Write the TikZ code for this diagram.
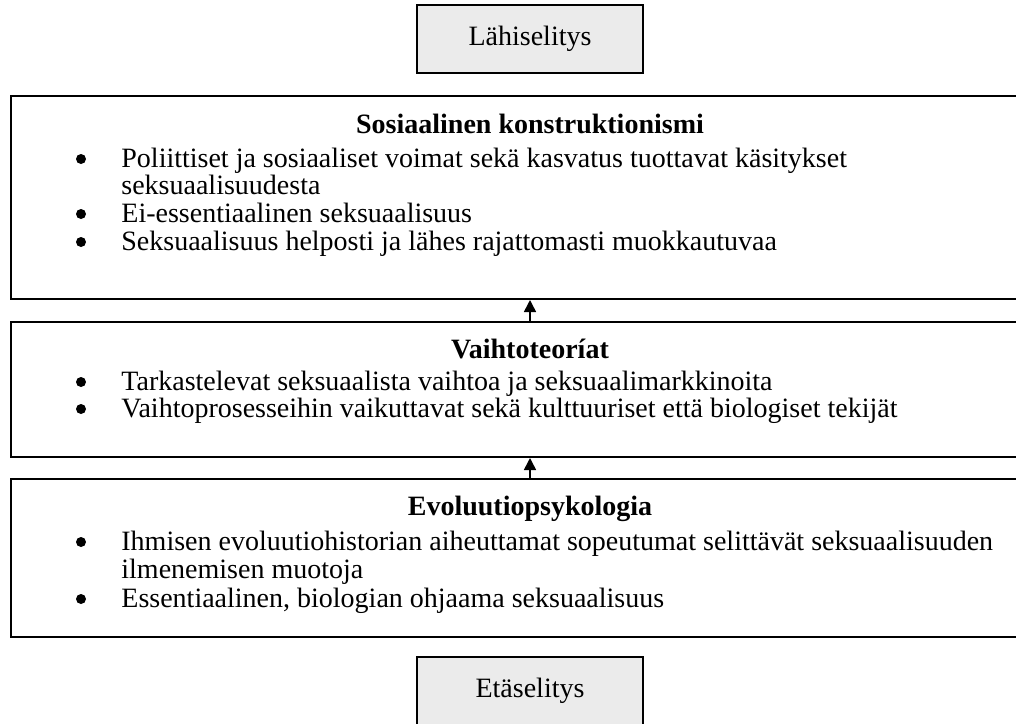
\documentclass[tikz,border=0pt]{standalone}
\usepackage{fontspec}
\setmainfont{Liberation Serif}
\usepackage{tikz}
\usetikzlibrary{arrows.meta}

\begin{document}
\begin{tikzpicture}[x=0.5pt,y=-0.5pt]
        \tikzstyle{level}=[rectangle,draw=black,line width=1pt,fill=white]
        \tikzstyle{endbox}=[rectangle,draw=black,line width=1pt,fill=black!8,minimum width=113pt,minimum height=34pt,font=\fontsize{14}{16}\selectfont]
        \tikzstyle{heading}=[inner sep=0pt,anchor=base,font=\fontsize{14}{16}\selectfont\bfseries]
        \tikzstyle{point}=[inner sep=0pt,anchor=base west,font=\fontsize{14}{16}\selectfont]
        \tikzstyle{dot}=[circle,fill=black,inner sep=0pt,minimum size=5pt]
        \tikzstyle{edge}=[draw,line width=0.8pt]
        \clip (0,0) rectangle (1016,723);
       \begin{scope}
         % near and far ends of the scale
         \node [endbox] (near) at (530,39) {Lähiselitys};
         \node [endbox] (far) at (530,691) {Etäselitys};
         % the three levels
         \node [level,minimum width=519pt,minimum height=101.5pt] (social) at (530,197.5) {};
         \node [level,minimum width=519pt,minimum height=67.5pt] (exchange) at (530,389.5) {};
         \node [level,minimum width=519pt,minimum height=79pt] (evolution) at (530,558) {};
         \path[edge,-{Triangle[length=6pt,width=6pt]}] (exchange) edge (social);
         \path[edge,-{Triangle[length=6pt,width=6pt]}] (evolution) edge (exchange);
         % texts of the top level
         \node [heading] (socialtitle) at (530,133) {Sosiaalinen konstruktionismi};
         \node [dot] (s1dot) at (81,159) {};
         \node [point] (s1) at (121,167) {Poliittiset ja sosiaaliset voimat sekä kasvatus tuottavat käsitykset};
         \node [point] (s1b) at (121,194) {seksuaalisuudesta};
         \node [dot] (s2dot) at (81,214) {};
         \node [point] (s2) at (121,222) {Ei-essentiaalinen seksuaalisuus};
         \node [dot] (s3dot) at (81,242) {};
         \node [point] (s3) at (121,250) {Seksuaalisuus helposti ja lähes rajattomasti muokkautuvaa};
         % texts of the middle level
         \node [heading] (exchangetitle) at (530,358) {Vaihtoteoríat};
         \node [dot] (e1dot) at (81,382) {};
         \node [point] (e1) at (121,390) {Tarkastelevat seksuaalista vaihtoa ja seksuaalimarkkinoita};
         \node [dot] (e2dot) at (81,409) {};
         \node [point] (e2) at (121,417) {Vaihtoprosesseihin vaikuttavat sekä kulttuuriset että biologiset tekijät};
         % texts of the bottom level
         \node [heading] (evolutiontitle) at (530,515) {Evoluutiopsykologia};
         \node [dot] (v1dot) at (81,542) {};
         \node [point] (v1) at (121,550) {Ihmisen evoluutiohistorian aiheuttamat sopeutumat selittävät seksuaalisuuden};
         \node [point] (v1b) at (121,578) {ilmenemisen muotoja};
         \node [dot] (v2dot) at (81,599) {};
         \node [point] (v2) at (121,607) {Essentiaalinen, biologian ohjaama seksuaalisuus};
        \end{scope}
\end{tikzpicture}
\end{document}
